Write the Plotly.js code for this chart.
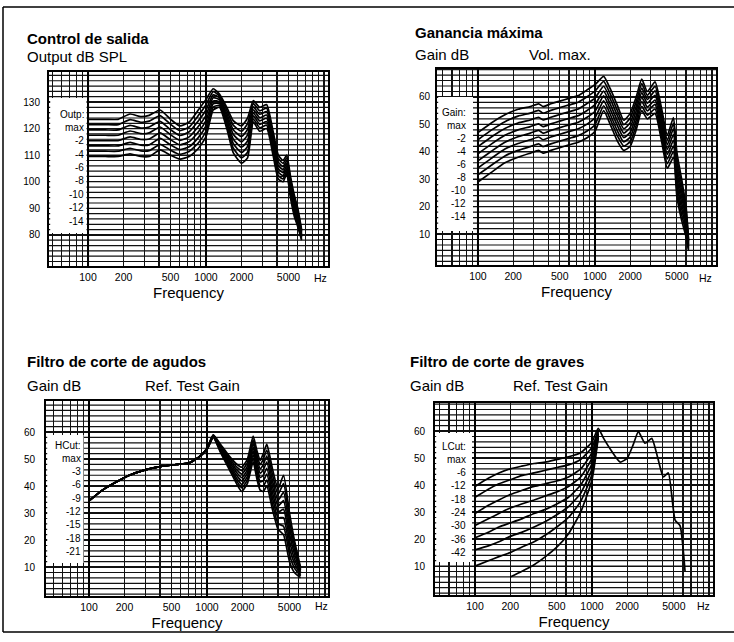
<!DOCTYPE html>
<html>
<head>
<meta charset="utf-8">
<script src="https://cdn.plot.ly/plotly-3.0.1.min.js"></script>
<style>html,body{margin:0;padding:0;background:#fff;}#chart{width:734px;height:642px;}</style>
</head>
<body>
<div id="chart"></div>
<script>
// ---------------- DATA ----------------
const panelTitles = ['Control de salida', 'Ganancia máxima', 'Filtro de corte de agudos', 'Filtro de corte de graves'];
const yUnitLabels = ['Output dB SPL', 'Gain dB', 'Gain dB', 'Gain dB'];
const panelNotes = ['', 'Vol. max.', 'Ref. Test Gain', 'Ref. Test Gain'];
const xAxisLabel = 'Frequency';
const xUnit = 'Hz';
const xTickValues = [100, 200, 500, 1000, 2000, 5000];
const xTickLabels = ['100', '200', '500', '1000', '2000', '5000'];
const yTicksOutput = [80, 90, 100, 110, 120, 130];
const yTicksGain = [10, 20, 30, 40, 50, 60];

const legendHeads = ['Outp:', 'Gain:', 'HCut:', 'LCut:'];
const legendOutput = ['max', '-2', '-4', '-6', '-8', '-10', '-12', '-14'];
const legendGain = ['max', '-2', '-4', '-6', '-8', '-10', '-12', '-14'];
const legendHCut = ['max', '-3', '-6', '-9', '-12', '-15', '-18', '-21'];
const legendLCut = ['max', '-6', '-12', '-18', '-24', '-30', '-36', '-42'];

// Panel 1: Output dB SPL (Control de salida)
const freqOutput = [100, 140, 180, 227, 280, 330, 408, 500, 600, 720, 860, 1000, 1150, 1300, 1500, 1700, 2000, 2250, 2520, 2850, 3270, 3700, 4100, 4500, 4830, 5200, 5600, 6000, 6460];
const outMax = [123.5,123.5,123.5,125.5,124.5,125,127,123.5,121,122.5,127,131,135,133,128,123,121,124,130.5,128,129,119,110,108,110,102,95,90,82];
const outM2  = [121.5,121.5,121.5,123.4,122.4,122.8,124.9,121.6,119.2,120.6,124.9,129,133.9,132.3,126.9,121.3,119,121.9,129.4,126.7,127.7,117.7,108.7,106.9,109,100.9,93.9,89,81.4];
const outM4  = [119.5,119.5,119.5,121.2,120.2,120.6,122.7,119.6,117.4,118.8,122.9,127,132.7,131.6,125.7,119.6,117,119.7,128.2,125.4,126.4,116.4,107.4,105.7,108,99.7,92.7,88,80.9];
const outM6  = [117.5,117.5,117.5,119.1,118.1,118.4,120.6,117.7,115.6,116.9,120.8,125,131.6,130.9,124.6,117.9,115,117.6,127.1,124.1,125.1,115.1,106.1,104.6,107,98.6,91.6,87,80.3];
const outM8  = [115.5,115.5,115.5,116.9,115.9,116.1,118.4,115.8,113.9,115.1,118.7,123,130.4,130.1,123.4,116.1,113,115.4,125.9,122.9,123.9,113.9,104.9,103.4,106,97.4,90.4,86,79.7];
const outM10 = [113.5,113.5,113.5,114.8,113.8,113.9,116.3,113.9,112.1,113.2,116.6,121,129.3,129.4,122.3,114.4,111,113.3,124.8,121.6,122.6,112.6,103.6,102.3,105,96.3,89.3,85,79.1];
const outM12 = [111.5,111.5,111.5,112.6,111.6,111.7,114.1,111.9,110.3,111.4,114.6,119,128.1,128.7,121.1,112.7,109,111.1,123.6,120.3,121.3,111.3,102.3,101.1,104,95.1,88.1,84,78.6];
const outM14 = [109.5,109.5,109.5,110.5,109.5,109.5,112,110,108.5,109.5,112.5,117,127,128,120,111,107,109,122.5,119,120,110,101,100,103,94,87,83,78];

// Panel 2: Gain dB, Vol. max (Ganancia máxima)
const freqGain = [100, 130, 170, 220, 280, 330, 360, 420, 500, 600, 720, 850, 1000, 1186, 1350, 1550, 1760, 2000, 2250, 2510, 2800, 3260, 3700, 4150, 4680, 5000, 5500, 6000, 6300];
const gainMax = [47,50.5,53.5,55.5,56.5,57.5,56.5,57.5,58.5,59.5,60.5,62.5,64.5,67.5,63,57,51.5,54,60,66.5,62,65.5,56,46,52.5,40,30,20,8];
const gainM2  = [44.4,47.9,51,53,54.1,55.1,54.1,55.1,56.1,57.1,58.1,60,62.1,65.7,61.1,55.1,49.9,52.3,58.3,64.9,60.6,63.9,54.3,44.3,50.4,37.7,27.9,18.4,7.4];
const gainM4  = [41.9,45.4,48.5,50.5,51.6,52.6,51.6,52.6,53.6,54.6,55.6,57.5,59.6,63.9,59.3,53.3,48.4,50.6,56.6,63.2,59.1,62.2,52.6,42.6,48.4,35.4,25.7,16.9,6.9];
const gainM6  = [39.3,42.8,46,48,49.2,50.2,49.2,50.2,51.2,52.2,53.2,55,57.2,62.1,57.4,51.4,46.8,48.9,54.9,61.6,57.7,60.6,50.9,40.9,46.3,33.1,23.6,15.3,6.3];
const gainM8  = [36.7,40.2,43.5,45.5,46.8,47.8,46.8,47.8,48.8,49.8,50.8,52.5,54.8,60.4,55.6,49.6,45.2,47.1,53.1,59.9,56.3,58.9,49.1,39.1,44.2,30.9,21.4,13.7,5.7];
const gainM10 = [34.1,37.6,41,43,44.4,45.4,44.4,45.4,46.4,47.4,48.4,50,52.4,58.6,53.7,47.7,43.6,45.4,51.4,58.3,54.9,57.3,47.4,37.4,42.1,28.6,19.3,12.1,5.1];
const gainM12 = [31.6,35.1,38.5,40.5,41.9,42.9,41.9,42.9,43.9,44.9,45.9,47.5,49.9,56.8,51.9,45.9,42.1,43.7,49.7,56.6,53.4,55.6,45.7,35.7,40.1,26.3,17.1,10.6,4.6];
const gainM14 = [29,32.5,36,38,39.5,40.5,39.5,40.5,41.5,42.5,43.5,45,47.5,55,50,44,40.5,42,48,55,52,54,44,34,38,24,15,9,4];

// Panel 3: High cut (Filtro de corte de agudos)
const freqHCut = [100, 130, 170, 220, 300, 400, 550, 700, 870, 1000, 1130, 1300, 1550, 1800, 1970, 2200, 2460, 2650, 2820, 3000, 3210, 3600, 4000, 4450, 5000, 5500, 6200];
const hcMax = [34.5,38.5,41.5,44,46,47.2,48,48.5,51,54,59,55.5,51,48,47,50,58.5,53,49.5,52,55.5,46,39,44,30,20,10];
const hcM3  = [34.5,38.5,41.5,44,46,47.2,48,48.5,51,53.9,58.9,55.1,50.3,46.9,45.7,48.7,57.1,51.5,47.9,50,53.3,43.9,36.9,40.9,27.4,18.3,9.4];
const hcM6  = [34.5,38.5,41.5,44,46,47.2,48,48.5,51,53.9,58.7,54.6,49.6,45.9,44.4,47.4,55.8,50,46.4,48,51.1,41.7,34.7,37.7,24.9,16.6,8.9];
const hcM9  = [34.5,38.5,41.5,44,46,47.2,48,48.5,51,53.8,58.6,54.2,48.9,44.8,43.1,46.1,54.4,48.5,44.8,46,48.9,39.6,32.6,34.6,22.3,14.9,8.3];
const hcM12 = [34.5,38.5,41.5,44,46,47.2,48,48.5,51,53.7,58.4,53.8,48.1,43.7,41.9,44.9,53.1,47,43.2,44,46.6,37.4,30.4,31.4,19.7,13.1,7.7];
const hcM15 = [34.5,38.5,41.5,44,46,47.2,48,48.5,51,53.6,58.3,53.4,47.4,42.6,40.6,43.6,51.7,45.5,41.6,42,44.4,35.3,28.3,28.3,17.1,11.4,7.1];
const hcM18 = [34.5,38.5,41.5,44,46,47.2,48,48.5,51,53.6,58.1,52.9,46.7,41.6,39.3,42.3,50.4,44,40.1,40,42.2,33.1,26.1,25.1,14.6,9.7,6.6];
const hcM21 = [34.5,38.5,41.5,44,46,47.2,48,48.5,51,53.5,58,52.5,46,40.5,38,41,49,42.5,38.5,38,40,31,24,22,12,8,6];

// Panel 4: Low cut (Filtro de corte de graves)
const freqLCut = [100, 130, 160, 200, 250, 320, 400, 500, 630, 800, 1000, 1130, 1250, 1450, 1740, 2000, 2250, 2490, 2840, 3240, 3650, 4070, 4490, 5130, 5650, 6240];
const lcMax = [39.5,42.5,44.5,46,47,48,48.5,49.5,50.5,52,56,61,57.5,53,48.5,50,55,59.8,55.5,57.3,50,43,44.5,27,25,8];
const lcM6  = [35.5,38.5,40.5,42,43.5,44.5,45.5,46.5,47.5,49.5,54,60.5];
const lcM12 = [29.5,32.5,34.5,36.5,38,39.5,40.5,41.5,43,46,52,60];
const lcM18 = [25,27.5,29.5,31.5,33,34.5,36,37.5,39.5,43,50,59.5];
const lcM24 = [20.5,22.5,24.5,26,27.5,29.5,31,33,35.5,40,48,59];
const lcM30 = [16,17.5,19,21,22.5,24.5,26.5,29,32,37,46,58.5];
const lcM36 = [10,12,13.5,15,17,19,21.5,24.5,28,34,44,58];
const lcM42 = [null,null,null,6,8,10.5,13.5,17,22,30,42,57.5];

// ---------------- DRAWING ----------------
const W = 734, H = 642;
const FONT = "'Liberation Sans', Arial, Helvetica, sans-serif";
const GRID = '#111';
const fx = px => px / W;
const fy = py => 1 - py / H;

const panels = [
  {xd:[49,328], yd:[72,266], xr:[1.669,4.034], yr:[68.3,141.3], yt:yTicksOutput, ystand:5, freq:freqOutput,
   curves:[outMax,outM2,outM4,outM6,outM8,outM10,outM12,outM14], legend:legendOutput,
   box:[49,98,86.5,233], legX:86, legY:114, legStep:13.4,
   title:[25,39], unit:[25,56], note:null, hz:[320,277]},
  {xd:[437,716], yd:[69,265], xr:[1.650,4.034], yr:[-1.3,70.2], yt:yTicksGain, ystand:3, freq:freqGain,
   curves:[gainMax,gainM2,gainM4,gainM6,gainM8,gainM10,gainM12,gainM14], legend:legendGain,
   box:[437,97,473,231], legX:468, legY:112.7, legStep:13,
   title:[413,33], unit:[413,54], note:[527,54], hz:[705,277]},
  {xd:[46,328], yd:[401,596], xr:[1.636,4.025], yr:[-0.7,71.5], yt:yTicksGain, ystand:7, freq:freqHCut,
   curves:[hcMax,hcM3,hcM6,hcM9,hcM12,hcM15,hcM18,hcM21], legend:legendHCut,
   box:[46,435,83.5,563], legX:83, legY:445, legStep:13.3,
   title:[25,362], unit:[25,385], note:[143,385], hz:[321,605]},
  {xd:[435,713], yd:[403,595], xr:[1.658,4.034], yr:[-0.7,70.4], yt:yTicksGain, ystand:6, freq:freqLCut,
   curves:[lcMax,lcM6,lcM12,lcM18,lcM24,lcM30,lcM36,lcM42], legend:legendLCut,
   box:[435,433,472,562], legX:468, legY:446, legStep:13.3,
   title:[408,362], unit:[408,385], note:[511,385], hz:[703,605]}
];

const xGridExtra = [50,60,70,80,90,300,400,600,700,800,900,3000,4000,6000,7000,8000,9000,10000];
const xDecadeLines = [100, 1000];
const xGridAll = xTickValues.concat(xGridExtra).sort((a, b) => a - b);
const xGridText = xGridAll.map(v => { const j = xTickValues.indexOf(v); return j >= 0 ? xTickLabels[j] : ''; });

const layout = {
  width: W, height: H,
  margin: {l:0, r:0, t:0, b:0},
  paper_bgcolor: '#fff', plot_bgcolor: '#fff',
  showlegend: false,
  font: {family: FONT, color: '#000'},
  annotations: [], shapes: []
};
const traces = [];

function txt(text, px, py, size, opts) {
  return Object.assign({
    text: text, x: fx(px), y: fy(py), xref: 'paper', yref: 'paper',
    xanchor: 'left', yanchor: 'middle', showarrow: false,
    font: {family: FONT, size: size, color: '#000'}
  }, opts || {});
}

panels.forEach((p, i) => {
  const s = i === 0 ? '' : String(i + 1);
  layout['xaxis' + s] = {
    type: 'log', domain: [fx(p.xd[0]), fx(p.xd[1])], range: p.xr, anchor: 'y' + s,
    tickmode: 'array', tickvals: xGridAll, ticktext: xGridText, ticks: '', ticklen: 0,
    showgrid: true, gridcolor: GRID, gridwidth: 1.2,
    showline: true, mirror: true, linecolor: '#000', linewidth: 2, zeroline: false,
    tickfont: {family: FONT, size: 10.5, color: '#000'}, ticklabelstandoff: 0,
    title: {text: xAxisLabel, font: {family: FONT, size: 15, color: '#000'}, standoff: 6},
    fixedrange: true
  };
  layout['yaxis' + s] = {
    domain: [fy(p.yd[1]), fy(p.yd[0])], range: p.yr, anchor: 'x' + s,
    tickmode: 'array', tickvals: p.yt, ticks: '', ticklen: 0,
    showgrid: true, gridcolor: GRID, gridwidth: 1.2,
    showline: true, mirror: true, linecolor: '#000', linewidth: 2, zeroline: false,
    tickfont: {family: FONT, size: 10, color: '#000'}, ticklabelstandoff: p.ystand,
    fixedrange: true
  };
  // horizontal chart-paper grid every 2 dB, drawn through the axis scales
  const gx = [], gy = [];
  const xa = Math.pow(10, p.xr[0]), xb = Math.pow(10, p.xr[1]);
  for (let v = Math.ceil(p.yr[0] / 2) * 2; v <= p.yr[1]; v += 2) {
    gx.push(xa, xb, null); gy.push(v, v, null);
  }
  traces.push({x: gx, y: gy, xaxis: 'x' + s, yaxis: 'y' + s, type: 'scatter', mode: 'lines',
    line: {color: GRID, width: 1.2}, connectgaps: false, hoverinfo: 'skip'});
  // heavier decade lines of the chart paper
  const dx = [], dy = [];
  xDecadeLines.forEach(f => { dx.push(f, f, null); dy.push(p.yr[0], p.yr[1], null); });
  traces.push({x: dx, y: dy, xaxis: 'x' + s, yaxis: 'y' + s, type: 'scatter', mode: 'lines',
    line: {color: '#000', width: 2}, connectgaps: false, hoverinfo: 'skip'});
  // legend box (white, hides the grid)
  layout.shapes.push({type: 'rect', xref: 'paper', yref: 'paper', layer: 'above',
    x0: fx(p.box[0] + 1.2), x1: fx(p.box[2]), y0: fy(p.box[3]), y1: fy(p.box[1]),
    fillcolor: '#fff', line: {width: 0}});
  // legend texts
  const lf = {family: FONT, size: 10, color: '#000'};
  layout.annotations.push(txt(legendHeads[i], p.legX, p.legY, 10, {xanchor: 'right', font: lf}));
  p.legend.forEach((lab, k) => {
    layout.annotations.push(txt(lab, p.legX, p.legY + p.legStep * (k + 1), 10, {xanchor: 'right', font: lf}));
  });
  // titles
  layout.annotations.push(txt('<b>' + panelTitles[i] + '</b>', p.title[0], p.title[1], 15));
  layout.annotations.push(txt(yUnitLabels[i], p.unit[0], p.unit[1], 15));
  if (p.note) layout.annotations.push(txt(panelNotes[i], p.note[0], p.note[1], 15));
  layout.annotations.push(txt(xUnit, p.hz[0], p.hz[1] + 1, 10.5, {xanchor: 'center'}));
  // curves
  p.curves.forEach(c => {
    traces.push({
      x: p.freq, y: c, xaxis: 'x' + s, yaxis: 'y' + s, type: 'scatter', mode: 'lines',
      line: {color: '#000', width: 1.7, shape: 'spline', smoothing: 0.5},
      connectgaps: false, hoverinfo: 'skip'
    });
  });
});

// outer frame of the scanned page
layout.shapes.push({type: 'line', xref: 'paper', yref: 'paper', x0: fx(3), x1: 1, y0: fy(7), y1: fy(7), line: {color: '#000', width: 1.5}});
layout.shapes.push({type: 'line', xref: 'paper', yref: 'paper', x0: fx(3), x1: fx(3), y0: fy(7), y1: fy(632), line: {color: '#000', width: 1.5}});
layout.shapes.push({type: 'line', xref: 'paper', yref: 'paper', x0: fx(3), x1: 1, y0: fy(632), y1: fy(632), line: {color: '#000', width: 1.5}});

Plotly.newPlot('chart', traces, layout, {displayModeBar: false, staticPlot: true});
</script>
</body>
</html>
